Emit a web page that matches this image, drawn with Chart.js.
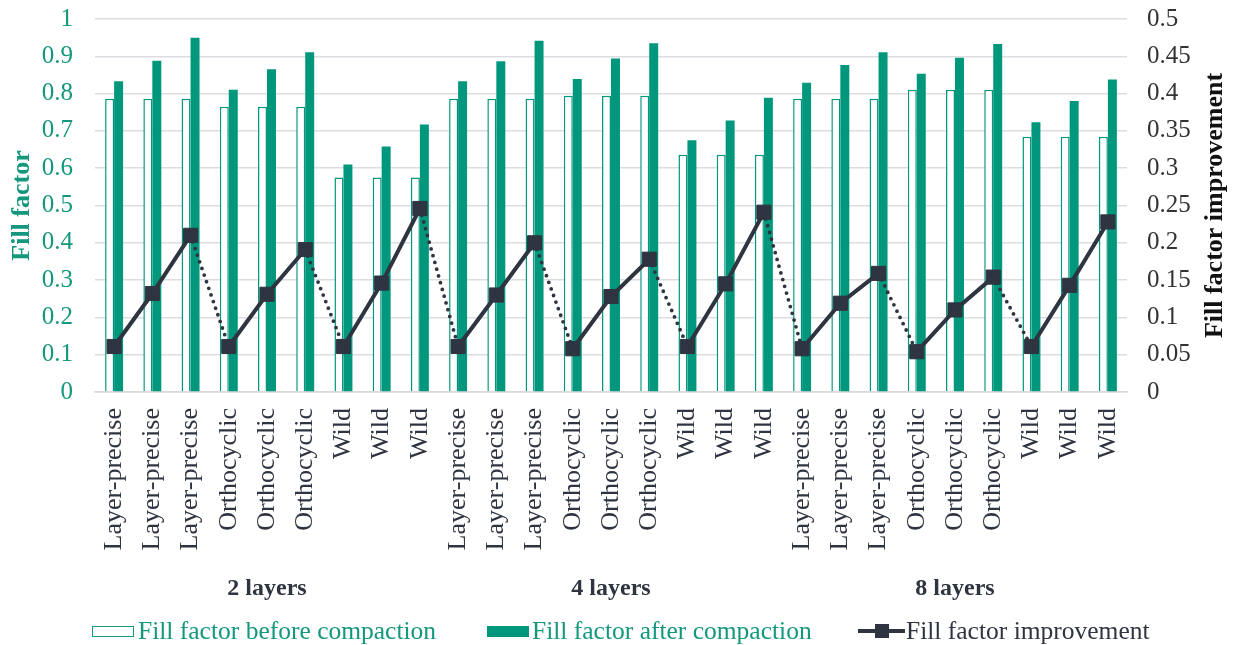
<!DOCTYPE html>
<html>
<head>
<meta charset="utf-8">
<script src="https://cdn.jsdelivr.net/npm/chart.js@4/dist/chart.umd.min.js"></script>
<style>
  body { margin: 0; background: #fff; }
  #wrap { position: relative; width: 1235px; height: 645px; }
  #legend { position: absolute; left: 0; top: 617px; width: 1235px; height: 28px;
    font-family: "Liberation Serif", "Times New Roman", serif; font-size: 25.5px; }
  .item { position: absolute; top: 0; height: 28px; line-height: 28px; white-space: nowrap; }
  .box { position: absolute; top: 9px; width: 42px; height: 11px; box-sizing: border-box; }
  .lineKey { position: absolute; top: 12px; left: 0; width: 47px; height: 4px; background: #2e3440; }
  .lineKey span { position: absolute; left: 17px; top: -5px; width: 14px; height: 14px; background: #2e3440; }
</style>
</head>
<body>
<div id="wrap">
  <canvas id="chart" width="1235" height="645"></canvas>
  <div id="legend">
    <div class="item" style="left:92px;color:#13977d">
      <div class="box" style="border:1.5px solid #13977d;background:#fff"></div>
      <span style="margin-left:46px">Fill factor before compaction</span>
    </div>
    <div class="item" style="left:487px;color:#13977d">
      <div class="box" style="background:#00977d"></div>
      <span style="margin-left:45px">Fill factor after compaction</span>
    </div>
    <div class="item" style="left:858px;color:#2e3440">
      <div class="lineKey"><span></span></div>
      <span style="margin-left:48px">Fill factor improvement</span>
    </div>
  </div>
</div>
<script>
const categories = [
  "Layer-precise", "Layer-precise", "Layer-precise", "Orthocyclic", "Orthocyclic", "Orthocyclic", "Wild", "Wild", "Wild",
  "Layer-precise", "Layer-precise", "Layer-precise", "Orthocyclic", "Orthocyclic", "Orthocyclic", "Wild", "Wild", "Wild",
  "Layer-precise", "Layer-precise", "Layer-precise", "Orthocyclic", "Orthocyclic", "Orthocyclic", "Wild", "Wild", "Wild"
];
const groups = ["2 layers", "4 layers", "8 layers"];
const beforeValues = [
  0.786, 0.786, 0.786, 0.765, 0.765, 0.765, 0.575, 0.575, 0.575,
  0.786, 0.786, 0.786, 0.794, 0.794, 0.794, 0.636, 0.636, 0.636,
  0.786, 0.786, 0.786, 0.810, 0.810, 0.810, 0.684, 0.684, 0.684
];
const afterValues = [
  0.833, 0.888, 0.950, 0.810, 0.865, 0.911, 0.610, 0.658, 0.717,
  0.833, 0.887, 0.942, 0.839, 0.894, 0.935, 0.675, 0.728, 0.789,
  0.829, 0.877, 0.911, 0.853, 0.896, 0.933, 0.723, 0.780, 0.838
];
const improvementValues = [
  0.061, 0.132, 0.210, 0.061, 0.131, 0.191, 0.061, 0.146, 0.246,
  0.061, 0.130, 0.200, 0.058, 0.128, 0.178, 0.061, 0.145, 0.241,
  0.058, 0.119, 0.159, 0.054, 0.110, 0.154, 0.061, 0.143, 0.228
];
const leftTicks = { min: 0, max: 1, step: 0.1 };
const rightTicks = { min: 0, max: 0.5, step: 0.05 };

const SERIF = "'Liberation Serif', 'Times New Roman', serif";
const TEAL = "#00977d";
const TEAL_TEXT = "#13977d";
const DARK = "#2e3440";

// titles and group names drawn on the canvas
const extraText = {
  id: "extraText",
  afterDraw(chart) {
    const { ctx, chartArea, scales } = chart;
    const midY = (chartArea.top + chartArea.bottom) / 2;
    ctx.save();
    ctx.font = "bold 26px " + SERIF;
    ctx.textAlign = "center";
    ctx.textBaseline = "middle";

    ctx.fillStyle = TEAL_TEXT;
    ctx.save();
    ctx.translate(22, midY);
    ctx.rotate(-Math.PI / 2);
    ctx.fillText("Fill factor", 0, 0);
    ctx.restore();

    ctx.fillStyle = "#111";
    ctx.save();
    ctx.translate(1215, midY);
    ctx.rotate(-Math.PI / 2);
    ctx.fillText("Fill factor improvement", 0, 0);
    ctx.restore();

    ctx.font = "bold 24px " + SERIF;
    ctx.fillStyle = DARK;
    const per = categories.length / groups.length;
    groups.forEach((g, i) => {
      const x0 = scales.x.getPixelForValue(i * per);
      const x1 = scales.x.getPixelForValue(i * per + per - 1);
      ctx.fillText(g, (x0 + x1) / 2, 589);
    });
    ctx.restore();
  }
};

const fmt = (d) => (v) => String(Number(v.toFixed(d)));
// fixed axis widths, and no extra top/bottom room from tick padding
const fitY = (w) => (s) => { s.width = w; s.paddingTop = 0; s.paddingBottom = 0; };

new Chart(document.getElementById("chart").getContext("2d"), {
  data: {
    labels: categories,
    datasets: [
      {
        type: "line",
        label: "Fill factor improvement",
        data: improvementValues,
        yAxisID: "y2",
        order: 0,
        borderColor: DARK,
        backgroundColor: DARK,
        borderWidth: 4,
        pointStyle: "rect",
        pointRadius: 10,
        pointBorderWidth: 1,
        pointBackgroundColor: DARK,
        pointBorderColor: DARK,
        tension: 0,
        segment: {
          borderDash: (c) => (c.p0DataIndex % 3 === 2 ? [0, 7] : undefined),
          borderWidth: (c) => (c.p0DataIndex % 3 === 2 ? 3.8 : 4),
          borderCapStyle: (c) => (c.p0DataIndex % 3 === 2 ? "round" : "butt")
        }
      },
      {
        type: "bar",
        label: "Fill factor before compaction",
        data: beforeValues,
        yAxisID: "y",
        order: 1,
        backgroundColor: "#ffffff",
        borderColor: TEAL,
        borderWidth: 1.5,
        categoryPercentage: 0.47,
        barPercentage: 1
      },
      {
        type: "bar",
        label: "Fill factor after compaction",
        data: afterValues,
        yAxisID: "y",
        order: 1,
        backgroundColor: TEAL,
        borderWidth: 0,
        categoryPercentage: 0.47,
        barPercentage: 1
      }
    ]
  },
  options: {
    responsive: false,
    animation: false,
    layout: { padding: { top: 19, bottom: 0, left: 0, right: 0 } },
    plugins: { legend: { display: false }, tooltip: { enabled: false } },
    scales: {
      x: {
        grid: { display: false },
        border: { color: "#d9d9d9", width: 1.5 },
        ticks: {
          autoSkip: false,
          minRotation: 90,
          maxRotation: 90,
          padding: 8,
          color: DARK,
          font: { family: SERIF, size: 26 }
        },
        afterFit: (s) => { s.height = 253; }
      },
      y: {
        position: "left",
        min: leftTicks.min,
        max: leftTicks.max,
        grid: { color: "#dcdde2", lineWidth: 1.5, drawTicks: false },
        border: { display: false },
        ticks: {
          stepSize: leftTicks.step,
          padding: 22,
          color: TEAL_TEXT,
          font: { family: SERIF, size: 25 },
          callback: fmt(1)
        },
        afterFit: fitY(95)
      },
      y2: {
        position: "right",
        min: rightTicks.min,
        max: rightTicks.max,
        grid: { display: false, drawTicks: false },
        border: { display: false },
        ticks: {
          stepSize: rightTicks.step,
          padding: 20,
          color: "#333",
          font: { family: SERIF, size: 25 },
          callback: fmt(2)
        },
        afterFit: fitY(108)
      }
    }
  },
  plugins: [extraText]
});
</script>
</body>
</html>
